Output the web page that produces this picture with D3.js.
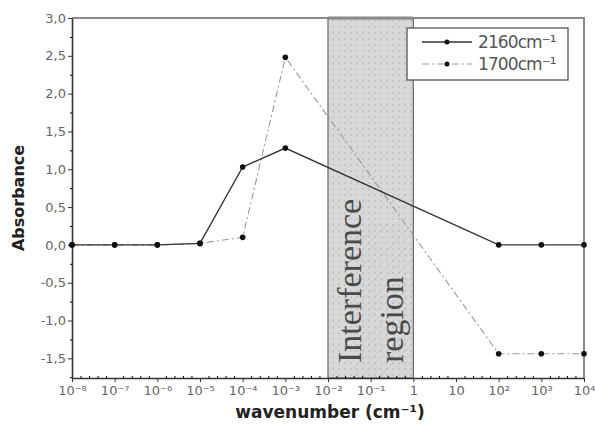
<!DOCTYPE html>
<html>
<head>
<meta charset="utf-8">
<script src="https://cdn.jsdelivr.net/npm/d3@7"></script>
<style>
  body { margin: 0; background: #fff; }
  svg { display: block; }
</style>
</head>
<body>
<svg id="svg"></svg>
<script>
// data
let wavenumbers = [1e-8, 1e-7, 1e-6, 1e-5, 1e-4, 1e-3, 1e2, 1e3, 1e4];
let abs2160 = [0, 0, 0, 0.02, 1.03, 1.28, 0, 0, 0];
let abs1700 = [0, 0, 0, 0.02, 0.1, 2.48, -1.44, -1.44, -1.44];
let xTicks = [1e-8, 1e-7, 1e-6, 1e-5, 1e-4, 1e-3, 1e-2, 1e-1, 1, 10, 1e2, 1e3, 1e4];
let yTicks = [-1.5, -1.0, -0.5, 0, 0.5, 1.0, 1.5, 2.0, 2.5, 3.0];
let region = [1e-2, 1];
let seriesNames = ["2160cm\u207B\u00B9", "1700cm\u207B\u00B9"];

let width = 595, height = 432;
let margin = { top: 18, right: 11, bottom: 54, left: 72 };

let svg = d3.select("#svg").attr("width", width).attr("height", height);

let x = d3.scaleLog().domain([1e-8, 1e4]).range([margin.left, width - margin.right]);
let y = d3.scaleLinear().domain([-1.76, 3.0]).range([height - margin.bottom, margin.top]);

let defs = svg.append("defs");
let dots = defs.append("pattern").attr("id", "dots")
  .attr("width", 6).attr("height", 6).attr("patternUnits", "userSpaceOnUse");
dots.append("rect").attr("width", 6).attr("height", 6).attr("fill", "#d8d8d8");
dots.append("circle").attr("cx", 3).attr("cy", 3).attr("r", 0.7).attr("fill", "#a8a8a8");

let hatch = defs.append("pattern").attr("id", "hatch")
  .attr("width", 6).attr("height", 6).attr("patternUnits", "userSpaceOnUse")
  .attr("patternTransform", "rotate(45)");
hatch.append("line").attr("x1", 0).attr("y1", 0).attr("x2", 0).attr("y2", 6)
  .attr("stroke", "#b0b0b0").attr("stroke-width", 0.8);

// interference region
let rx1 = x(region[0]), rx2 = x(region[1]);
let yTop = y.range()[1], yBot = y.range()[0];
svg.append("rect").attr("x", rx1).attr("y", yTop)
  .attr("width", rx2 - rx1).attr("height", yBot - yTop)
  .attr("fill", "url(#dots)").attr("stroke", "#666").attr("stroke-width", 1.2);
svg.append("rect").attr("x", rx1 + 25).attr("y", y(0.3))
  .attr("width", rx2 - rx1 - 27).attr("height", yBot - y(0.3))
  .attr("fill", "url(#hatch)").attr("opacity", 0.7);
svg.append("line").attr("x1", rx1).attr("x2", rx2).attr("y1", yTop).attr("y2", yTop)
  .attr("stroke", "#111").attr("stroke-width", 2.5);

let regionText = svg.append("text")
  .attr("transform", "translate(" + ((rx1 + rx2) / 2) + "," + (yBot - 15) + ") rotate(-90)")
  .attr("font-family", "Liberation Serif, Times New Roman, serif")
  .attr("font-size", 34).attr("fill", "#4a4a4a");
regionText.append("tspan").attr("x", 0).attr("dy", -10).text("Interference");
regionText.append("tspan").attr("x", 0).attr("dy", 42).text("region");

// frame (top and right)
svg.append("path")
  .attr("d", "M" + x.range()[0] + "," + yTop + "H" + x.range()[1] + "V" + yBot)
  .attr("fill", "none").attr("stroke", "#8a8a8a").attr("stroke-width", 2);

// axes
let fmt = d => d3.format(".1f")(d).replace(".", ",").replace("\u2212", "-");
let yAxis = svg.append("g").attr("transform", "translate(" + margin.left + ",0)")
  .call(d3.axisLeft(y).tickValues(yTicks).tickFormat(fmt).tickSize(4).tickSizeOuter(0));
let yMinor = d3.range(-1.75, 3.01, 0.25).filter(v => Math.abs(v * 2 - Math.round(v * 2)) > 0.01);
svg.append("g").attr("transform", "translate(" + margin.left + ",0)")
  .call(d3.axisLeft(y).tickValues(yMinor).tickFormat("").tickSize(2).tickSizeOuter(0))
  .select(".domain").remove();

let sup = { "-": "\u207B", "0": "\u2070", "1": "\u00B9", "2": "\u00B2", "3": "\u00B3", "4": "\u2074",
  "5": "\u2075", "6": "\u2076", "7": "\u2077", "8": "\u2078", "9": "\u2079" };
let xfmt = function(d) {
  let e = Math.round(Math.log10(d));
  if (e == 0) return "1";
  if (e == 1) return "10";
  return "10" + String(e).split("").map(c => sup[c]).join("");
};
let xAxis = svg.append("g").attr("transform", "translate(0," + yBot + ")")
  .call(d3.axisBottom(x).tickValues(xTicks).tickFormat(xfmt).tickSize(4).tickSizeOuter(0));
let xMinor = [];
for (let i = 0; i < xTicks.length - 1; ++i) {
  for (let k = 1; k < 5; ++k) xMinor.push(Math.pow(10, Math.log10(xTicks[i]) + k / 5));
}
svg.append("g").attr("transform", "translate(0," + yBot + ")")
  .call(d3.axisBottom(x).tickValues(xMinor).tickFormat("").tickSize(-2).tickSizeOuter(0))
  .select(".domain").remove();

[xAxis, yAxis].forEach(function(g) {
  g.select(".domain").attr("stroke", "#333").attr("stroke-width", 1.6);
  g.selectAll(".tick line").attr("stroke", "#333");
  g.selectAll("text").attr("font-family", "DejaVu Sans, sans-serif")
    .attr("font-size", 13).attr("fill", "#666");
});
yAxis.selectAll("text").attr("x", -6);
xAxis.selectAll("text").attr("y", 8);

svg.append("text").attr("transform", "translate(24," + ((yTop + yBot) / 2) + ") rotate(-90)")
  .attr("text-anchor", "middle").attr("font-family", "DejaVu Sans, sans-serif")
  .attr("font-weight", "bold").attr("font-size", 16).attr("fill", "#222")
  .text("Absorbance");
svg.append("text").attr("x", (x.range()[0] + x.range()[1]) / 2 + 2).attr("y", 418)
  .attr("text-anchor", "middle").attr("font-family", "DejaVu Sans, sans-serif")
  .attr("font-weight", "bold").attr("font-size", 17).attr("fill", "#222")
  .text("wavenumber (cm\u207B\u00B9)");

// series
let series = [
  { name: seriesNames[0], values: abs2160, color: "#333", dash: null, width: 1.4 },
  { name: seriesNames[1], values: abs1700, color: "#999", dash: "7,3,2,3", width: 1.1 }
];
let line = d3.line().x((d, i) => x(wavenumbers[i])).y(d => y(d));

series.slice().reverse().forEach(function(s) {
  svg.append("path").datum(s.values).attr("d", line)
    .attr("fill", "none").attr("stroke", s.color).attr("stroke-width", s.width)
    .attr("stroke-dasharray", s.dash);
  svg.append("g").selectAll("circle").data(s.values).enter().append("circle")
    .attr("cx", (d, i) => x(wavenumbers[i])).attr("cy", d => y(d))
    .attr("r", 2.8).attr("fill", "#111");
});

// legend
let lg = svg.append("g").attr("transform", "translate(407,28)");
lg.append("rect").attr("width", 161).attr("height", 52)
  .attr("fill", "#fff").attr("stroke", "#555").attr("stroke-width", 1.3);
series.forEach(function(s, i) {
  let ly = 14 + i * 22;
  lg.append("line").attr("x1", 15).attr("x2", 65).attr("y1", ly).attr("y2", ly)
    .attr("stroke", s.color).attr("stroke-width", s.width).attr("stroke-dasharray", s.dash);
  lg.append("circle").attr("cx", 40).attr("cy", ly).attr("r", 2.5).attr("fill", "#111");
  lg.append("text").attr("x", 71).attr("y", ly + 6)
    .attr("font-family", "DejaVu Sans, sans-serif").attr("font-size", 17)
    .attr("letter-spacing", -0.9).attr("fill", "#555").text(s.name);
});
</script>
</body>
</html>
